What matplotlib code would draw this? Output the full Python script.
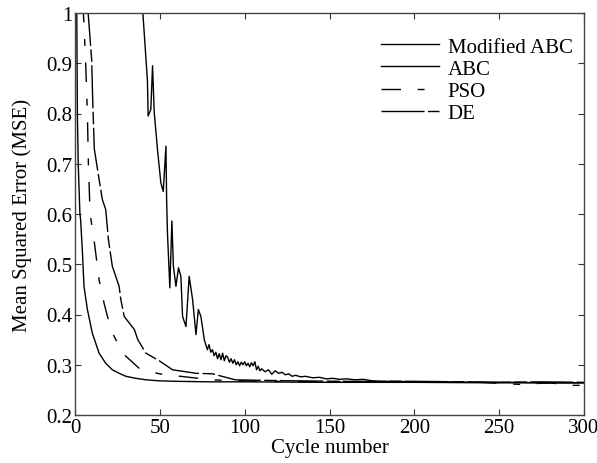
import matplotlib
matplotlib.use("Agg")
import matplotlib.pyplot as plt

# --- data ---
mabc_x = [1, 1.4, 1.9, 2.9, 3.3, 4.3, 5.3, 7.3, 10.2, 14.2, 18.1, 22, 26, 30, 35.8, 42,
          49.6, 60, 80, 100, 150, 200, 250, 300]
mabc_y = [1.02, 0.8, 0.7, 0.6, 0.589, 0.529, 0.456, 0.41, 0.363, 0.323, 0.303, 0.29, 0.283,
          0.277, 0.273, 0.27, 0.268, 0.267, 0.266, 0.266, 0.265, 0.265, 0.264, 0.264]

abc_x = [39.6, 42.7, 43.1, 44.7, 45.7, 46.7, 48.6, 50.6, 52, 53.6, 54, 54.5, 55.9, 57.1, 58,
         59.5, 61, 62.4, 63.4, 65.4, 67.3, 69.3, 71.3, 72.7, 74.2, 76.2, 78, 79, 80, 81, 82,
         83, 84, 85, 86, 87, 88, 89, 90, 91, 92, 93, 94, 95, 96, 97, 98, 99, 100, 101, 102,
         103, 104, 105, 106, 107, 108, 109, 110, 112, 114, 116, 118, 120, 122, 124, 126, 128,
         130, 133, 136, 140, 144, 148, 152, 156, 160, 165, 170, 175, 180, 190, 200, 220, 240,
         260, 280, 300]
abc_y = [1.02, 0.865, 0.795, 0.808, 0.895, 0.802, 0.729, 0.662, 0.645, 0.735, 0.629, 0.562,
         0.453, 0.586, 0.496, 0.456, 0.493, 0.476, 0.396, 0.376, 0.476, 0.43, 0.36, 0.41,
         0.396, 0.35, 0.33, 0.34, 0.325, 0.33, 0.318, 0.325, 0.312, 0.322, 0.31, 0.323, 0.308,
         0.318, 0.315, 0.305, 0.312, 0.303, 0.31, 0.3, 0.306, 0.298, 0.305, 0.3, 0.306, 0.298,
         0.303, 0.296, 0.304, 0.298, 0.306, 0.29, 0.297, 0.288, 0.292, 0.286, 0.29, 0.281,
         0.288, 0.283, 0.285, 0.28, 0.282, 0.277, 0.279, 0.276, 0.277, 0.274, 0.275, 0.272,
         0.273, 0.271, 0.272, 0.27, 0.271, 0.268, 0.267, 0.267, 0.266, 0.266, 0.265, 0.265,
         0.264, 0.264]

pso_x = [4.7, 6.3, 7.3, 7.9, 8.9, 11.2, 14.2, 17.1, 21.1, 28, 37.8, 49.6, 59.5, 70, 81, 95,
         120, 150, 180, 210, 240, 255, 262, 280, 292, 297, 300]
pso_y = [1.02, 0.9, 0.8, 0.7, 0.6, 0.549, 0.469, 0.423, 0.37, 0.323, 0.293, 0.282, 0.278,
         0.274, 0.27, 0.268, 0.267, 0.266, 0.266, 0.265, 0.265, 0.262, 0.261, 0.264, 0.259,
         0.259, 0.263]

de_x = [7.3, 9.8, 10.6, 11.4, 14.2, 16.1, 18.1, 19.7, 22, 26, 27, 29, 32, 35, 37, 41.8, 49.6,
        57.5, 71.3, 81, 94.5, 110, 130, 160, 200, 230, 250, 275, 300]
de_y = [1.02, 0.908, 0.808, 0.729, 0.669, 0.629, 0.609, 0.549, 0.496, 0.456, 0.43, 0.396,
        0.383, 0.37, 0.35, 0.323, 0.308, 0.29, 0.283, 0.282, 0.27, 0.269, 0.268, 0.267,
        0.267, 0.266, 0.265, 0.266, 0.265]

xticks = [0, 50, 100, 150, 200, 250, 300]
yticks = [0.2, 0.3, 0.4, 0.5, 0.6, 0.7, 0.8, 0.9, 1]
ytick_labels = ["0.2", "0.3", "0.4", "0.5", "0.6", "0.7", "0.8", "0.9", "1"]

plt.rcParams["font.family"] = ["Liberation Serif", "DejaVu Serif"]
plt.rcParams["lines.scale_dashes"] = False

fig = plt.figure(figsize=(5.97, 4.64), dpi=100)
ax = fig.add_axes([75 / 597, 1 - 416 / 464, 509 / 597, 402 / 464])

ax.plot(mabc_x, mabc_y, color="black", linewidth=1.0, label="Modified ABC")
ax.plot(abc_x, abc_y, color="black", linewidth=1.0, label="ABC")
ax.plot(pso_x, pso_y, color="black", linewidth=1.0, dashes=(14, 12, 5, 12), label="PSO")
ax.plot(de_x, de_y, color="black", linewidth=1.0, dashes=(31, 2.5, 9, 2.5), label="DE")

ax.set_xlim(0, 300)
ax.set_ylim(0.2, 1)
ax.set_xticks(xticks)
ax.set_yticks(yticks)
ax.set_yticklabels(ytick_labels)
ax.tick_params(direction="in", top=True, right=True, length=4, width=0.8,
               labelsize=15, pad=2, color="#333333")
for s in ax.spines.values():
    s.set_color("#444444")
    s.set_linewidth(1.0)

ax.set_xlabel("Cycle number", fontsize=15, labelpad=1)
ax.set_ylabel("Mean Squared Error (MSE)", fontsize=15, labelpad=10)

ax.legend(loc="upper left", bbox_to_anchor=(0.601, 0.94), frameon=False, fontsize=15,
          handlelength=2.8, handletextpad=0.4, labelspacing=0.12, borderpad=0,
          borderaxespad=0)

fig.savefig("out.png", dpi=100)
